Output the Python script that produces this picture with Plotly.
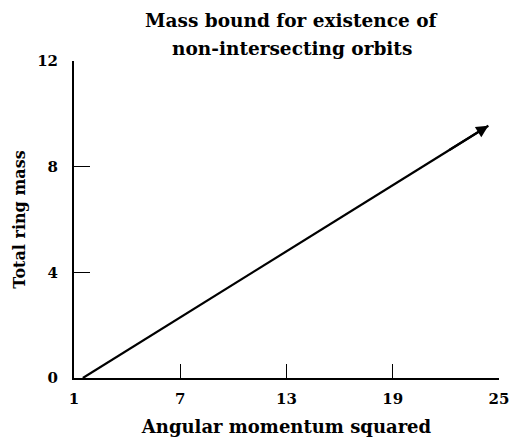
import plotly.graph_objects as go

# Mass bound curve: angular momentum squared vs. total ring mass
ang_mom_sq = [1.5, 24.4]
ring_mass = [0.0, 9.55]

x_ticks = [1, 7, 13, 19, 25]
y_ticks = [0, 4, 8, 12]

title_lines = ["Mass bound for existence of", "non-intersecting orbits"]

SERIF = "DejaVu Serif"

fig = go.Figure()
fig.add_trace(go.Scatter(
    x=ang_mom_sq, y=ring_mass, mode="lines",
    line=dict(color="black", width=2.2), showlegend=False, hoverinfo="skip",
))

# arrowhead at the end of the curve
fig.add_annotation(
    x=ang_mom_sq[-1], y=ring_mass[-1], xref="x", yref="y",
    ax=ang_mom_sq[-2] + (ang_mom_sq[-1] - ang_mom_sq[-2]) * 0.9,
    ay=ring_mass[-2] + (ring_mass[-1] - ring_mass[-2]) * 0.9,
    axref="x", ayref="y", text="", showarrow=True,
    arrowhead=2, arrowsize=1.1, arrowwidth=2.2, arrowcolor="black",
)

# heading, one annotation per line for wider line spacing
for i, line in enumerate(title_lines):
    fig.add_annotation(
        text=line, xref="paper", yref="paper", x=0.5, y=1,
        xanchor="center", yanchor="middle",
        xshift=5, yshift=41 - 28 * i, showarrow=False,
        font=dict(family=SERIF, size=18.5, weight="bold", color="black"),
    )

fig.update_layout(
    width=514, height=445,
    margin=dict(l=74, r=15, t=61, b=67),
    paper_bgcolor="white", plot_bgcolor="white",
    font=dict(family=SERIF, color="black", size=14),
    xaxis=dict(
        range=[1, 25], tickvals=x_ticks, ticktext=[str(v) for v in x_ticks],
        ticks="inside", ticklen=14, tickwidth=1.3, tickcolor="black",
        showline=True, linecolor="black", linewidth=2,
        showgrid=False, zeroline=False, ticklabelstandoff=6, automargin=False,
        tickfont=dict(family=SERIF, size=15, weight="bold"),
        title=dict(text="Angular momentum squared", standoff=13,
                   font=dict(family=SERIF, size=18, weight="bold")),
    ),
    yaxis=dict(
        range=[0, 12], tickvals=y_ticks, ticktext=[str(v) for v in y_ticks],
        ticks="inside", ticklen=16, tickwidth=1.3, tickcolor="black",
        showline=True, linecolor="black", linewidth=2,
        showgrid=False, zeroline=False, ticklabelstandoff=11, automargin=False,
        tickfont=dict(family=SERIF, size=15, weight="bold"),
        title=dict(text="Total ring mass", standoff=8,
                   font=dict(family=SERIF, size=16, weight="bold")),
    ),
)

fig.write_html("out.html")
